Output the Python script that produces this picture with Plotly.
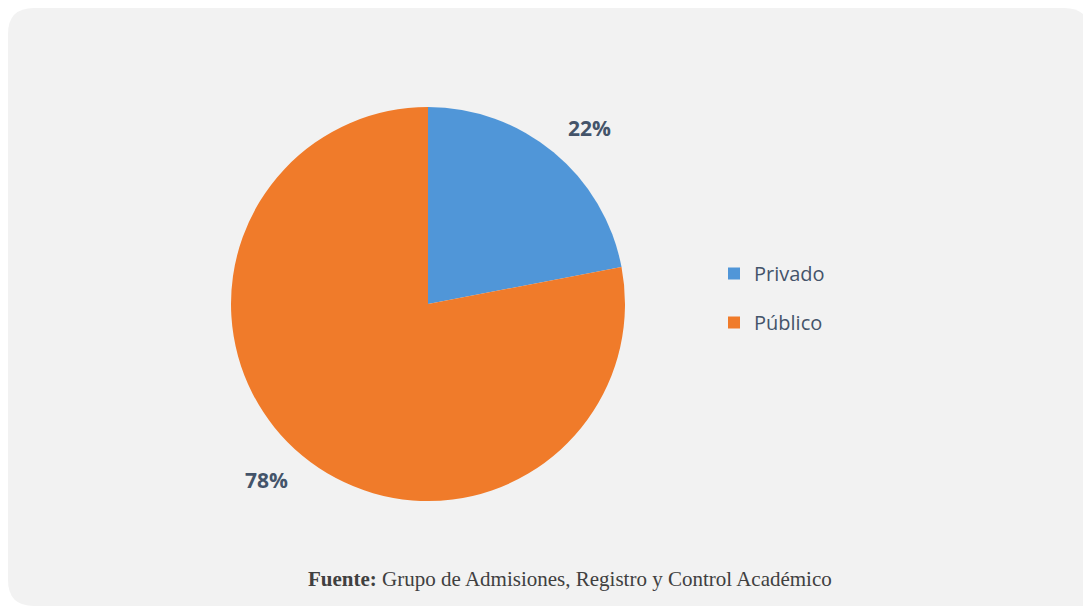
import math
import plotly.graph_objects as go

# ---- data ----
labels = ["Privado", "Público"]
values = [22, 78]
colors = ["#5096d8", "#f07b2a"]
source_bold = "Fuente:"
source_text = "Grupo de Admisiones, Registro y Control Académico"

# the page body adds an 8px margin, so the figure starts at (8, 8)
OFF = 8
W, H = 1091 - OFF, 607 - OFF
def px(x):
    return (x - OFF) / W
def py(y):
    return 1 - (y - OFF) / H

# pie geometry (page pixels)
cx, cy, R = 428, 304, 197

fig = go.Figure()
fig.add_trace(go.Pie(
    labels=labels, values=values, sort=False, direction="clockwise", rotation=0,
    marker=dict(colors=colors, line=dict(width=0)),
    textinfo="none", hoverinfo="label+percent", showlegend=False,
    domain=dict(x=[px(cx - R), px(cx + R)], y=[py(cy + R), py(cy - R)]),
))

# legend via dummy traces (one group each to control row gap)
for lab, col in zip(labels, colors):
    fig.add_trace(go.Scatter(
        x=[None], y=[None], mode="markers", name=lab, legendgroup=lab,
        marker=dict(symbol="square", size=13, color=col),
    ))

# percentage labels outside the slices
total = sum(values)
annotations = []
cum = 0
for v in values:
    mid = (cum + v / 2) / total * 2 * math.pi
    cum += v
    x = cx + 1.29 * R * math.sin(mid)
    y = cy - 1.16 * R * math.cos(mid)
    annotations.append(dict(
        x=px(x), y=py(y), xref="paper", yref="paper", showarrow=False,
        text="<b>%d%%</b>" % round(v / total * 100),
        font=dict(family="Open Sans", size=21, color="#44546a"),
        xanchor="center", yanchor="middle",
    ))

annotations.append(dict(
    x=px(570), y=py(579), xref="paper", yref="paper", showarrow=False,
    text="<b>%s</b> %s" % (source_bold, source_text),
    font=dict(family="Liberation Serif", size=21, color="#404040"),
    xanchor="center", yanchor="middle",
))

# rounded background panel
x0, y0, x1, y1, rr = 8, 8, 1090, 606, 26
path = (
    f"M {px(x0 + rr)} {py(y0)} L {px(x1 - rr)} {py(y0)} "
    f"Q {px(x1)} {py(y0)} {px(x1)} {py(y0 + rr)} "
    f"L {px(x1)} {py(y1 - 3)} L {px(x1 - 3)} {py(y1)} "
    f"L {px(x0 + rr)} {py(y1)} Q {px(x0)} {py(y1)} {px(x0)} {py(y1 - rr)} "
    f"L {px(x0)} {py(y0 + rr)} Q {px(x0)} {py(y0)} {px(x0 + rr)} {py(y0)} Z"
)

fig.update_layout(
    width=W, height=H,
    margin=dict(l=0, r=0, t=0, b=0),
    paper_bgcolor="white", plot_bgcolor="rgba(0,0,0,0)",
    xaxis=dict(visible=False), yaxis=dict(visible=False),
    shapes=[dict(type="path", path=path, xref="paper", yref="paper",
                 fillcolor="#f2f2f2", line=dict(width=0), layer="below")],
    annotations=annotations,
    legend=dict(x=px(714), y=py(298), xanchor="left", yanchor="middle",
                font=dict(family="Open Sans", size=20, color="#44546a"),
                tracegroupgap=20, bgcolor="rgba(0,0,0,0)", itemsizing="constant"),
    showlegend=True,
)

fig.write_html("out.html")
